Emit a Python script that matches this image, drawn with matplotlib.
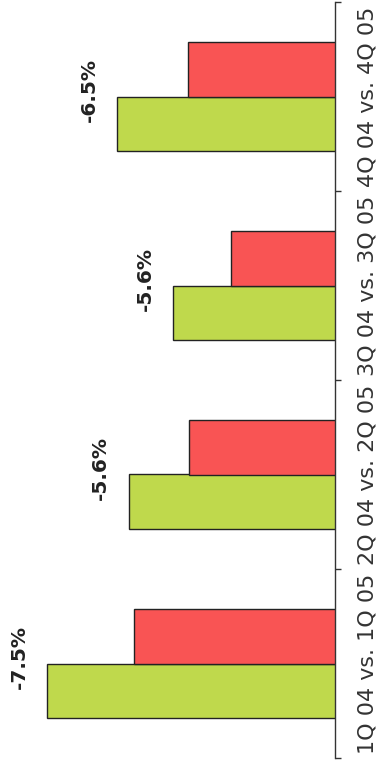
import matplotlib.pyplot as plt
import numpy as np

categories = ['1Q 04 vs. 1Q 05', '2Q 04 vs. 2Q 05', '3Q 04 vs. 3Q 05', '4Q 04 vs. 4Q 05']
values_04 = [100.0, 93.0, 89.2, 94.0]
values_05 = [92.5, 87.8, 84.2, 87.9]
change_labels = ['-7.5%', '-5.6%', '-5.6%', '-6.5%']

green = '#bfd94c'
red = '#f95454'

fig = plt.figure(figsize=(3.81, 7.67), dpi=100)
ax = fig.add_axes([0.0, 9 / 767, 335 / 381, 756 / 767])

y = np.arange(len(categories))
h = 0.29
ax.barh(y - h / 2, values_04, height=h, color=green, edgecolor='#222222', lw=1.0)
ax.barh(y + h / 2, values_05, height=h, color=red, edgecolor='#222222', lw=1.0)

# axis is truncated and flipped so bars grow to the left
ax.set_xlim(104.0, 75.34)
ax.set_ylim(-0.5, len(categories) - 0.5)

for i, lab in enumerate(change_labels):
    ax.annotate(lab, (values_04[i], y[i]), xytext=(-20, 5), textcoords='offset points',
                rotation=90, ha='center', va='center', fontsize=14.5,
                fontweight='bold', color='#222222')

for s in ['left', 'top', 'bottom']:
    ax.spines[s].set_visible(False)
ax.spines['right'].set_color('#333333')
ax.spines['right'].set_linewidth(1.0)

ax.set_xticks([])
ax.yaxis.tick_right()
ax.set_yticks(y)
ax.set_yticklabels(categories, rotation=90, fontsize=16, color='#333333', va='center')
ax.tick_params(axis='y', which='major', length=0, pad=16)
ax.set_yticks(np.arange(-0.5, len(categories), 1.0), minor=True)
ax.tick_params(axis='y', which='minor', length=4, width=1.0, color='#333333', direction='out')

plt.savefig('out.png', dpi=100)
